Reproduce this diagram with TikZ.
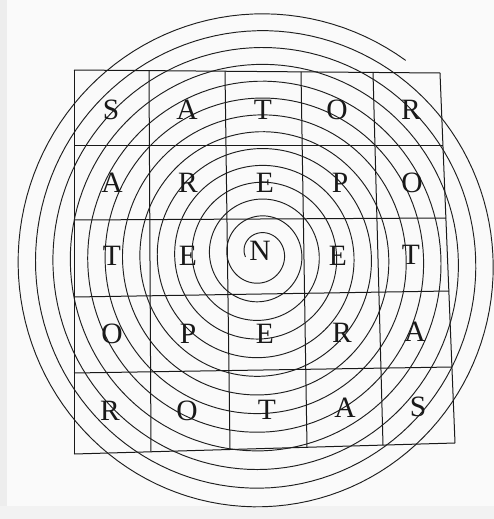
\documentclass[tikz,border=0pt]{standalone}
\usepackage{fontspec}
\setmainfont{Liberation Serif}
\begin{document}
\begin{tikzpicture}[x=1pt,y=-1pt,
  gridline/.style={draw=black!90,line width=1pt},
  spiralline/.style={draw=black!88,line width=0.95pt},
  letter/.style={inner sep=0pt,text height=19.5pt,text depth=0pt,font=\fontsize{29.5}{29.5}\selectfont,text=black!90}]
\useasboundingbox (0,0) rectangle (494,519);
\clip (0,0) rectangle (494,519);
\fill[black!2] (0,0) rectangle (494,519);
\fill[black!7] (0,0) rectangle (7,519);
\fill[black!5] (0,506) rectangle (494,519);
% grid
\draw[gridline] (74,70) -- (440,73);
\draw[gridline] (74,145) -- (443,145);
\draw[gridline] (74,220) -- (446,218);
\draw[gridline] (74,297) -- (449,291);
\draw[gridline] (74,373) -- (452,367);
\draw[gridline] (74,454) -- (455,443);
\draw[gridline] (74,70) -- (74,454);
\draw[gridline] (149,70.6) -- (151,451.8);
\draw[gridline] (225,71.2) -- (230,449.5);
\draw[gridline] (301,71.9) -- (307,447.3);
\draw[gridline] (373,72.5) -- (383,445.1);
\draw[gridline] (440,73) -- (455,443);
% spiral
\draw[spiralline] plot[domain=165:4986,samples=1800,variable=\t]
  ({260+(15+0.04833*(\t-165))*cos(\t)},
   {253+0.0025*(\t-165)+1.02*(15+0.04833*(\t-165))*sin(\t)});
% letters
\node[letter] (a11) at (111,110) {S};
\node[letter] (a12) at (187,110) {A};
\node[letter] (a13) at (263,110) {T};
\node[letter] (a14) at (337,110) {O};
\node[letter] (a15) at (411,110) {R};
\node[letter] (a21) at (112,183) {A};
\node[letter] (a22) at (188,183) {R};
\node[letter] (a23) at (265,183) {E};
\node[letter] (a24) at (340,183) {P};
\node[letter] (a25) at (412,183) {O};
\node[letter] (a31) at (112,256) {T};
\node[letter] (a32) at (188,256) {E};
\node[letter] (a33) at (260,251) {N};
\node[letter] (a34) at (338,256) {E};
\node[letter] (a35) at (411,255) {T};
\node[letter] (a41) at (112,334) {O};
\node[letter] (a42) at (188,334) {P};
\node[letter] (a43) at (265,334) {E};
\node[letter] (a44) at (342,333) {R};
\node[letter] (a45) at (415,332) {A};
\node[letter] (a51) at (110,411) {R};
\node[letter] (a52) at (187,411) {O};
\node[letter] (a53) at (267,410) {T};
\node[letter] (a54) at (345,408) {A};
\node[letter] (a55) at (418,407) {S};
\end{tikzpicture}
\end{document}
